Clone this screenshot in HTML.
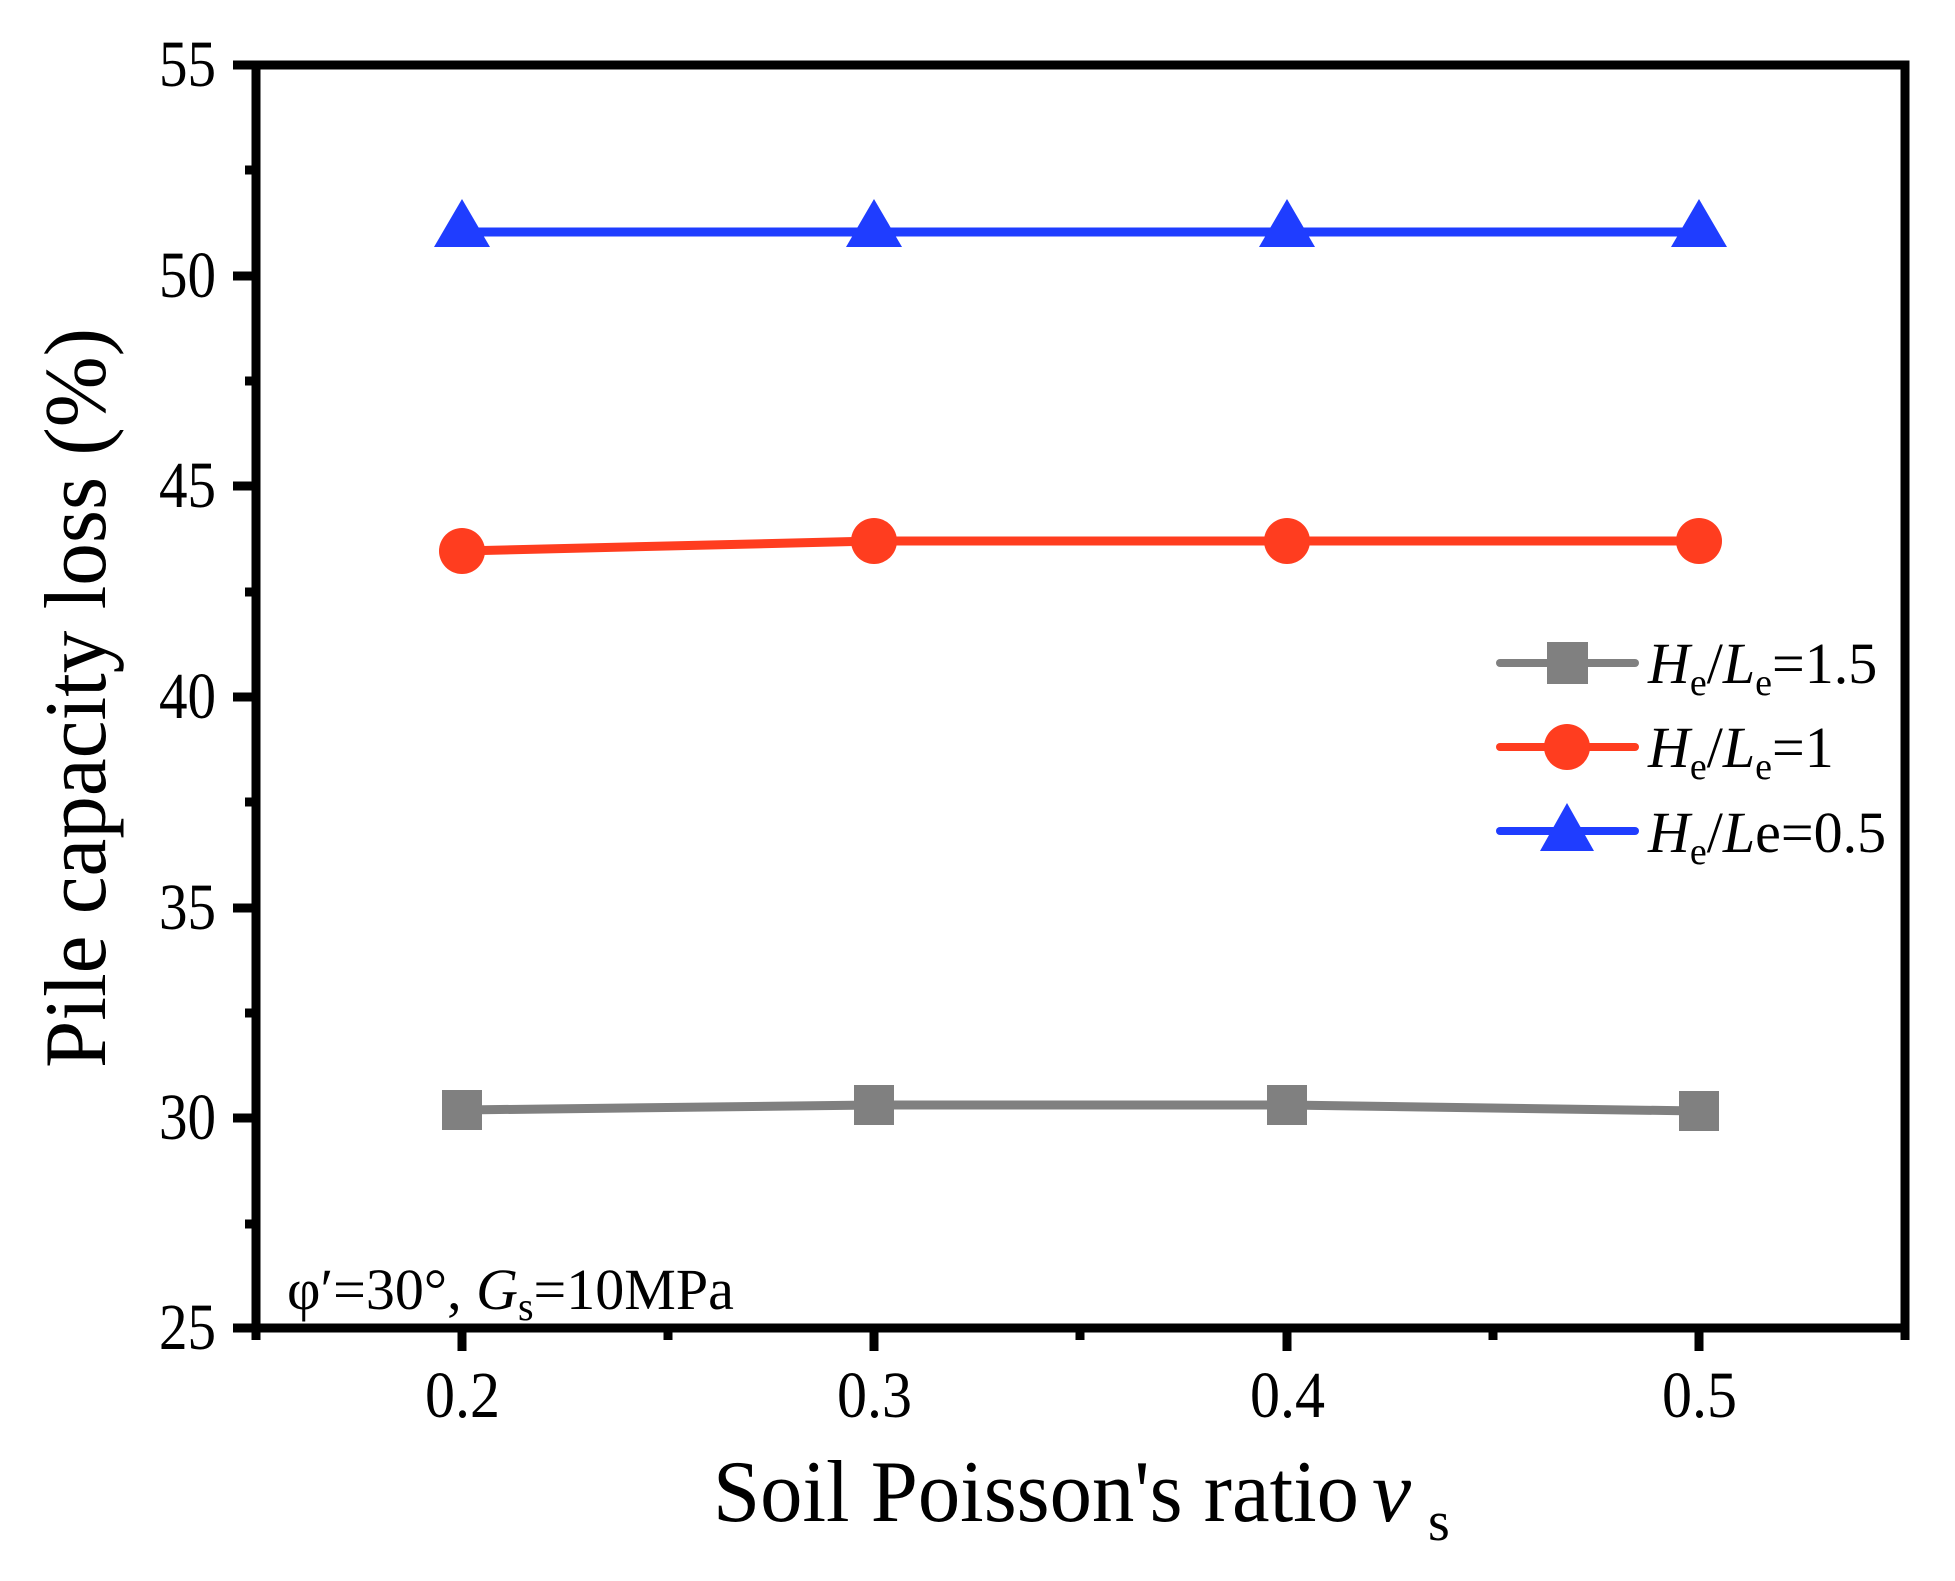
<!DOCTYPE html>
<html><head><meta charset="utf-8"><style>html,body{margin:0;padding:0;background:#fff}</style></head><body>
<svg width="1955" height="1576" viewBox="0 0 1955 1576" xmlns="http://www.w3.org/2000/svg" font-family="Liberation Serif, serif">
<rect width="1955" height="1576" fill="#fff"/>
<g stroke="#000" stroke-width="9">
<line x1="256" y1="65" x2="233" y2="65"/><line x1="256" y1="276" x2="233" y2="276"/><line x1="256" y1="486" x2="233" y2="486"/><line x1="256" y1="697" x2="233" y2="697"/><line x1="256" y1="908" x2="233" y2="908"/><line x1="256" y1="1118" x2="233" y2="1118"/><line x1="256" y1="1328" x2="233" y2="1328"/>
<line x1="256" y1="170" x2="245" y2="170"/><line x1="256" y1="381" x2="245" y2="381"/><line x1="256" y1="592" x2="245" y2="592"/><line x1="256" y1="802" x2="245" y2="802"/><line x1="256" y1="1013" x2="245" y2="1013"/><line x1="256" y1="1224" x2="245" y2="1224"/>
<line x1="462" y1="1328" x2="462" y2="1351"/><line x1="874" y1="1328" x2="874" y2="1351"/><line x1="1287" y1="1328" x2="1287" y2="1351"/><line x1="1699" y1="1328" x2="1699" y2="1351"/>
<line x1="668" y1="1328" x2="668" y2="1340"/><line x1="1080" y1="1328" x2="1080" y2="1340"/><line x1="1493" y1="1328" x2="1493" y2="1340"/><line x1="1905" y1="1328" x2="1905" y2="1340"/><line x1="256" y1="1328" x2="256" y2="1340"/>
</g>
<rect x="256" y="65" width="1649" height="1263" fill="none" stroke="#000" stroke-width="9"/>
<g font-size="66" text-anchor="end">
<text x="216" y="86" textLength="57" lengthAdjust="spacingAndGlyphs">55</text><text x="216" y="297" textLength="57" lengthAdjust="spacingAndGlyphs">50</text><text x="216" y="507" textLength="57" lengthAdjust="spacingAndGlyphs">45</text><text x="216" y="718" textLength="57" lengthAdjust="spacingAndGlyphs">40</text><text x="216" y="929" textLength="57" lengthAdjust="spacingAndGlyphs">35</text><text x="216" y="1139" textLength="57" lengthAdjust="spacingAndGlyphs">30</text><text x="216" y="1349" textLength="57" lengthAdjust="spacingAndGlyphs">25</text>
</g>
<g font-size="66">
<text x="425" y="1417" textLength="75" lengthAdjust="spacingAndGlyphs">0.2</text><text x="837" y="1417" textLength="75" lengthAdjust="spacingAndGlyphs">0.3</text><text x="1250" y="1417" textLength="75" lengthAdjust="spacingAndGlyphs">0.4</text><text x="1662" y="1417" textLength="75" lengthAdjust="spacingAndGlyphs">0.5</text>
</g>
<text transform="translate(105,698) rotate(-90)" font-size="88" text-anchor="middle" textLength="740" lengthAdjust="spacingAndGlyphs">Pile capacity loss (%)</text>
<text x="713" y="1521" font-size="88" textLength="646" lengthAdjust="spacingAndGlyphs">Soil Poisson's ratio</text>
<text x="1372" y="1521" font-size="88" font-style="italic">ν</text>
<text x="1428" y="1540" font-size="56">s</text>
<text x="287" y="1309" font-size="58">φ′=30°, <tspan font-style="italic">G</tspan><tspan font-size="40" dy="11">s</tspan><tspan dy="-11">=10MPa</tspan></text>
<polyline points="462,1110 874,1105 1287,1105 1699,1111" fill="none" stroke="#808080" stroke-width="9"/>
<g fill="#808080"><rect x="442" y="1090" width="40" height="40"/><rect x="854" y="1085" width="40" height="40"/><rect x="1267" y="1085" width="40" height="40"/><rect x="1679" y="1091" width="40" height="40"/></g>
<polyline points="462,551 874,541 1287,541 1699,541" fill="none" stroke="#ff3d1f" stroke-width="9"/>
<g fill="#ff3d1f"><circle cx="462" cy="551" r="23"/><circle cx="874" cy="541" r="23"/><circle cx="1287" cy="541" r="23"/><circle cx="1699" cy="541" r="23"/></g>
<polyline points="462,232 874,232 1287,232 1699,232" fill="none" stroke="#1f3dff" stroke-width="9"/>
<g fill="#1f3dff"><polygon points="462,199 434,247 490,247"/><polygon points="874,199 846,247 902,247"/><polygon points="1287,199 1259,247 1315,247"/><polygon points="1699,199 1671,247 1727,247"/></g>
<g stroke-width="8" stroke-linecap="round"><line x1="1500" y1="663" x2="1635" y2="663" stroke="#808080"/><line x1="1500" y1="747" x2="1635" y2="747" stroke="#ff3d1f"/><line x1="1500" y1="831" x2="1635" y2="831" stroke="#1f3dff"/></g>
<rect x="1547" y="642" width="41" height="42" fill="#808080"/>
<circle cx="1567" cy="747" r="23" fill="#ff3d1f"/>
<polygon points="1567,803 1540,851 1594,851" fill="#1f3dff"/>
<g font-size="58">
<text x="1648" y="683"><tspan font-style="italic">H</tspan><tspan font-size="38" dy="12">e</tspan><tspan dy="-12">/</tspan><tspan font-style="italic">L</tspan><tspan font-size="38" dy="12">e</tspan><tspan dy="-12">=1.5</tspan></text>
<text x="1648" y="767"><tspan font-style="italic">H</tspan><tspan font-size="38" dy="12">e</tspan><tspan dy="-12">/</tspan><tspan font-style="italic">L</tspan><tspan font-size="38" dy="12">e</tspan><tspan dy="-12">=1</tspan></text>
<text x="1648" y="852"><tspan font-style="italic">H</tspan><tspan font-size="38" dy="12">e</tspan><tspan dy="-12">/</tspan><tspan font-style="italic">L</tspan>e=0.5</text>
</g>
</svg>
</body></html>
